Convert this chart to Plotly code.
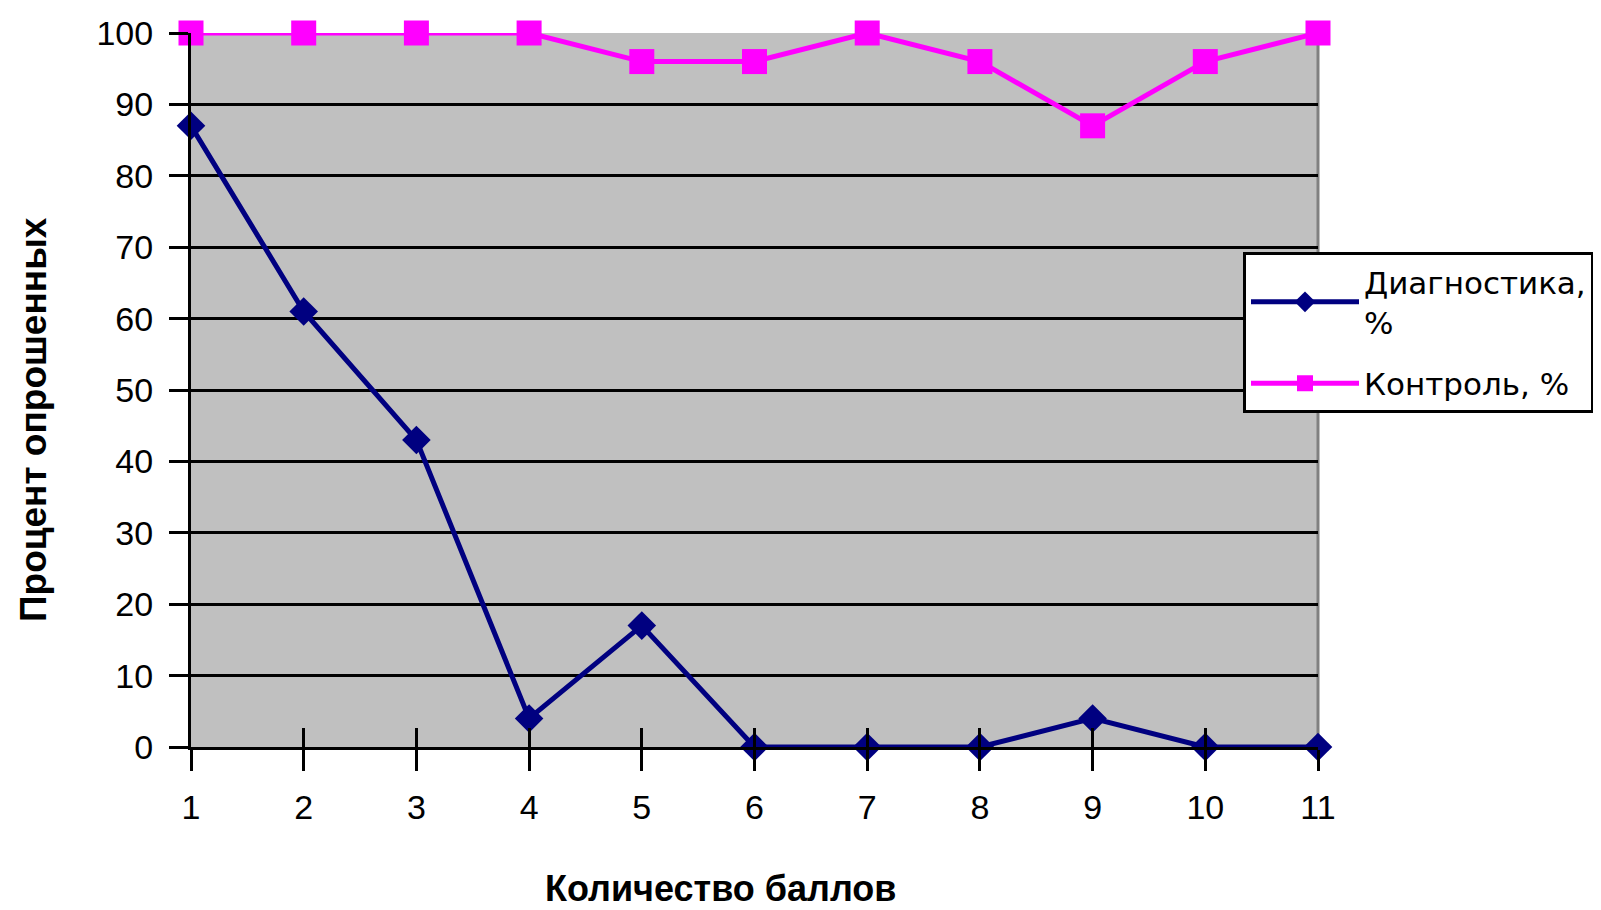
import plotly.graph_objects as go

# ---- data ----
scores = [1, 2, 3, 4, 5, 6, 7, 8, 9, 10, 11]
tick_labels = ["1", "2", "3", "4", "5", "6", "7", "8", "9", "10", "11"]
diagnostika = [87, 61, 43, 4, 17, 0, 0, 0, 4, 0, 0]
kontrol = [100, 100, 100, 100, 96, 96, 100, 96, 87, 96, 100]
y_ticks = [0, 10, 20, 30, 40, 50, 60, 70, 80, 90, 100]

OFF = 8  # default body margin of the page
W, H = 1601 - OFF, 910 - OFF
# plot area in page pixels
L, R, T, B = 191, 1318, 33, 747


def px_x(p):
    return (p - L) / (R - L)


def px_y(p):
    return (B - p) / (B - T)


FONT = "Liberation Sans, Arial, sans-serif"
LEGFONT = "DejaVu Sans, Verdana, sans-serif"

fig = go.Figure()
fig.add_trace(go.Scatter(
    x=scores, y=diagnostika, name="Диагностика,<br>%", legendgroup="d",
    mode="lines+markers", cliponaxis=False,
    line=dict(color="#000080", width=5),
    marker=dict(symbol="diamond", size=22, color="#000080"),
))
fig.add_trace(go.Scatter(
    x=scores, y=kontrol, name="Контроль, %", legendgroup="k",
    mode="lines+markers", cliponaxis=False,
    line=dict(color="#FF00FF", width=5),
    marker=dict(symbol="square", size=25, color="#FF00FF"),
))
# invisible trace for the inner half of the crossing x ticks
fig.add_trace(go.Scatter(x=scores, y=diagnostika, xaxis="x2", showlegend=False,
                         mode="markers", marker=dict(opacity=0), hoverinfo="skip"))

fig.update_layout(
    width=W, height=H,
    margin=dict(l=L - OFF, r=W - (R - OFF), t=T - OFF, b=H - (B - OFF), pad=0,
                autoexpand=False),
    paper_bgcolor="white", plot_bgcolor="#C0C0C0",
    font=dict(family=FONT, size=34, color="black"),
    showlegend=True,
    legend=dict(
        x=px_x(1243), y=px_y(252), xanchor="left", yanchor="top",
        bgcolor="white", bordercolor="black", borderwidth=3,
        font=dict(family=LEGFONT, size=31, color="black"),
        itemwidth=108, tracegroupgap=18,
    ),
    xaxis=dict(
        range=[1, 11], tickvals=scores, ticktext=tick_labels,
        showgrid=False, zeroline=False,
        showline=True, linecolor="black", linewidth=3,
        ticks="outside", ticklen=21, tickwidth=3, tickcolor="black",
        ticklabelstandoff=7,
        tickfont=dict(family=FONT, size=34),
    ),
    xaxis2=dict(
        range=[1, 11], overlaying="x", side="bottom", anchor="y",
        tickvals=scores, showticklabels=False, showgrid=False, zeroline=False,
        showline=False, ticks="inside", ticklen=19, tickwidth=3, tickcolor="black",
    ),
    yaxis=dict(
        range=[0, 100], tickvals=y_ticks,
        showgrid=True, gridcolor="black", gridwidth=3,
        zeroline=False,
        showline=True, linecolor="black", linewidth=3,
        ticks="outside", ticklen=19, tickwidth=3, tickcolor="black",
        ticklabelstandoff=9,
        tickfont=dict(family=FONT, size=34),
    ),
    annotations=[
        dict(text="<b>Количество баллов</b>", xref="paper", yref="paper",
             x=px_x(720), y=px_y(910), xanchor="center", yanchor="bottom",
             borderpad=0, showarrow=False, font=dict(family=FONT, size=36)),
        dict(text="<b>Процент опрошенных</b>", xref="paper", yref="paper",
             x=px_x(33), y=px_y(420), xanchor="center", yanchor="middle",
             textangle=-90, showarrow=False, font=dict(family=FONT, size=37)),
    ],
    shapes=[
        dict(type="line", xref="paper", yref="paper", x0=1, x1=1, y0=0, y1=1,
             line=dict(color="#808080", width=3), layer="below"),
    ],
)

fig.write_html("out.html")
